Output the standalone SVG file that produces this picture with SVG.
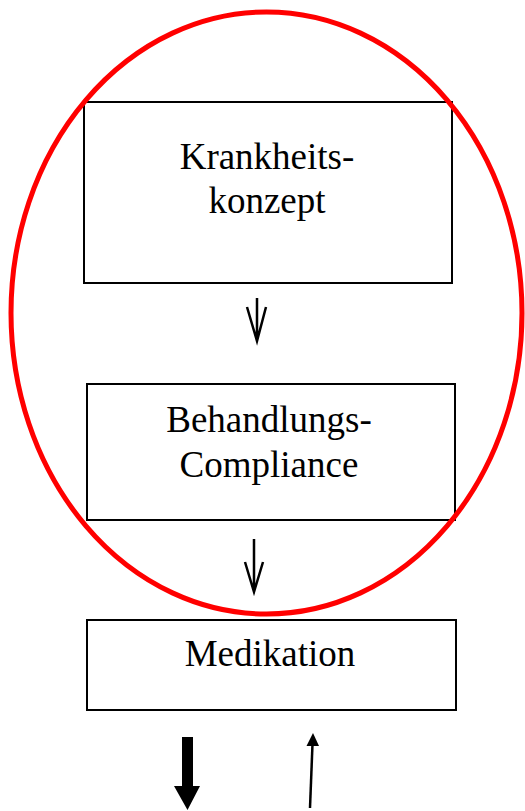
<svg xmlns="http://www.w3.org/2000/svg" width="525" height="811" viewBox="0 0 525 811">
<style>
.box{fill:none;stroke:#000;stroke-width:2}
.t{font-family:"Liberation Serif","Times New Roman",serif;font-size:37px;fill:#000;text-anchor:middle}
.ln{fill:none;stroke:#000;stroke-width:2.5;stroke-linecap:butt;stroke-linejoin:miter}
</style>
<rect width="525" height="811" fill="#fff"/>
<g id="krankheitskonzept">
<rect class="box" x="84" y="102" width="368" height="181"/>
<text class="t" x="267" y="169">Krankheits-</text>
<text class="t" x="267" y="213">konzept</text>
</g>
<g id="behandlungs-compliance">
<rect class="box" x="87" y="384" width="368" height="136"/>
<text class="t" x="269" y="432">Behandlungs-</text>
<text class="t" x="269" y="477">Compliance</text>
</g>
<g id="medikation">
<rect class="box" x="87" y="620" width="369" height="90"/>
<text class="t" x="270" y="666">Medikation</text>
</g>
<g id="ellipse">
<ellipse cx="266.5" cy="313" rx="255.5" ry="301" fill="none" stroke="#ff0000" stroke-width="5"/>
</g>
<g id="connectors">
<path class="ln" d="M257,298 V341 M247,307 L257,341 L266,307"/>
<path class="ln" d="M254,539 V592 M245,562 L254,592 L263,562"/>
<path d="M182,737 H193 V786 H200 L187.5,810 L174,786 H182 Z" fill="#000"/>
<line x1="310" y1="808" x2="312.5" y2="744" stroke="#000" stroke-width="2.5"/>
<path d="M306.5,746 L313,733 L319,746 Z" fill="#000"/>
</g>
</svg>
